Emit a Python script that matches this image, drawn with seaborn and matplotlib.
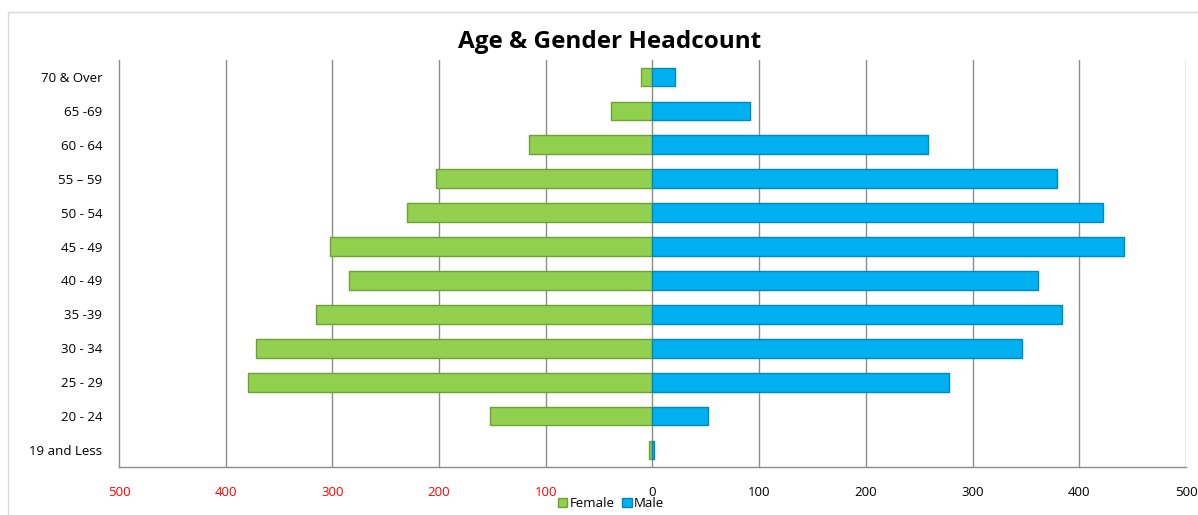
import pandas as pd
import numpy as np
import seaborn as sns
import matplotlib.pyplot as plt
from matplotlib.patches import Rectangle, Patch

age_groups = ['70 & Over', '65 -69', '60 - 64', '55 \u2013 59', '50 - 54', '45 - 49',
              '40 - 49', '35 -39', '30 - 34', '25 - 29', '20 - 24', '19 and Less']
female = [11, 39, 116, 203, 230, 302, 284, 315, 372, 379, 152, 3]
male = [21, 91, 258, 379, 422, 442, 361, 384, 346, 278, 52, 1]
x_ticks = [-500, -400, -300, -200, -100, 0, 100, 200, 300, 400, 500]

df = pd.DataFrame({
    'age': age_groups * 2,
    'count': [-v for v in female] + male,
    'gender': ['Female'] * len(female) + ['Male'] * len(male),
})

sns.set_style('white')
plt.rcParams['font.family'] = ['Open Sans', 'DejaVu Sans']
plt.rcParams['text.color'] = 'black'

fig = plt.figure(figsize=(11.98, 5.15), dpi=100)
ax = fig.add_axes([0.0993, 0.0932, 0.8907, 0.7903])

colors = {'Female': '#92D050', 'Male': '#00B0F0'}
edges = {'Female': '#6FA034', 'Male': '#0088C0'}
for g in ['Female', 'Male']:
    sub = df[df['gender'] == g]
    sns.barplot(data=sub, x='count', y='age', order=age_groups, orient='h',
                color=colors[g], width=0.55, ax=ax, edgecolor=edges[g],
                linewidth=1.0, saturation=1)

ax.set_xlim(-500, 500)
ax.set_xticks(x_ticks)
ax.set_xticklabels([str(abs(t)) for t in x_ticks], fontsize=9.5)
for lbl, t in zip(ax.get_xticklabels(), x_ticks):
    lbl.set_color('red' if t < 0 else 'black')
ax.tick_params(axis='x', pad=14, length=0)
ax.tick_params(axis='y', length=0, labelsize=9.5, pad=12, labelcolor='black')
for t in x_ticks[1:]:
    ax.axvline(t, color='#8c8c8c', lw=1, zorder=0)
ax.set_xlabel('')
ax.set_ylabel('')
for s in ['top', 'right']:
    ax.spines[s].set_visible(False)
for s in ['left', 'bottom']:
    ax.spines[s].set_color('#8c8c8c')
    ax.spines[s].set_linewidth(1)

fig.text(0.509, 0.918, 'Age & Gender Headcount', ha='center', va='center',
         fontsize=17.5, fontweight='bold', color='black')

handles = [Patch(facecolor=colors['Female'], edgecolor=edges['Female']),
           Patch(facecolor=colors['Male'], edgecolor=edges['Male'])]
fig.legend(handles, ['Female', 'Male'], loc='center', bbox_to_anchor=(0.51, 0.022),
           ncol=2, frameon=False, fontsize=9.5, handlelength=0.7, handleheight=0.7,
           handletextpad=0.2, columnspacing=0.6)

fig.patches.append(Rectangle((0.0067, -0.05), 1.1, 1.027, transform=fig.transFigure,
                             fill=False, edgecolor='#d9d9d9', lw=1))

fig.savefig('out.png', dpi=100)
